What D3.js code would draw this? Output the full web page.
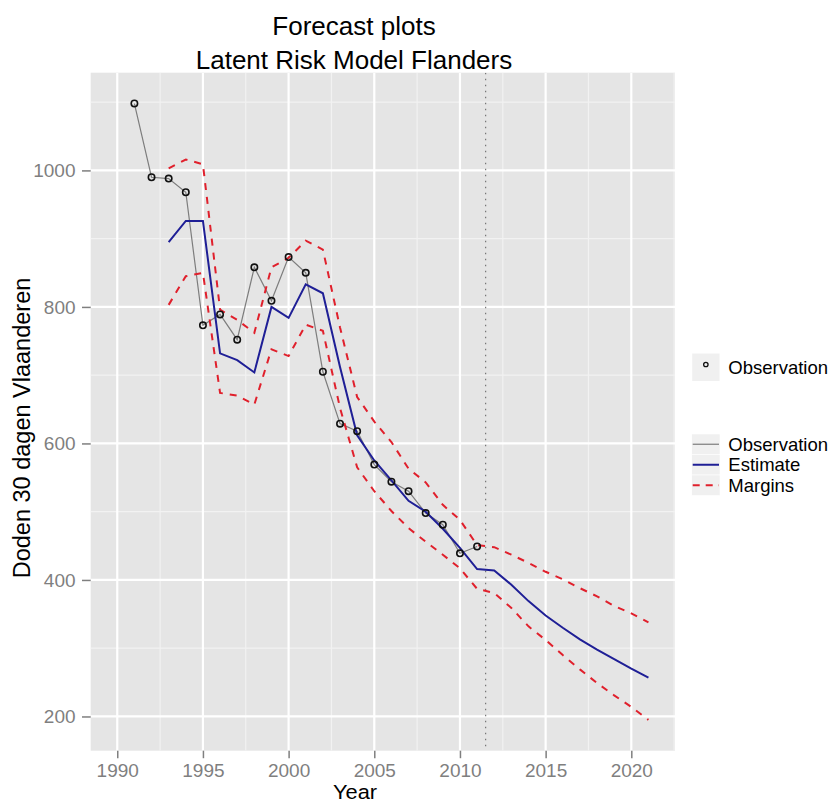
<!DOCTYPE html>
<html>
<head>
<meta charset="utf-8">
<script src="https://cdn.jsdelivr.net/npm/d3@7"></script>
<style>
  body { margin: 0; background: #ffffff; }
  text { font-family: "Liberation Sans", Arial, sans-serif; }
</style>
</head>
<body>
<svg id="chart" width="832" height="803"></svg>
<script>
// ---- data ---------------------------------------------------------------
const obsYears = [1991, 1992, 1993, 1994, 1995, 1996, 1997, 1998, 1999, 2000, 2001,
                  2002, 2003, 2004, 2005, 2006, 2007, 2008, 2009, 2010, 2011];
const observed = [1098, 990, 988, 968, 773, 789, 752, 858, 809, 873, 850,
                  705, 629, 618, 569, 544, 530, 498, 481, 439, 449];

const fitYears = [1993, 1994, 1995, 1996, 1997, 1998, 1999, 2000, 2001, 2002,
                  2003, 2004, 2005, 2006, 2007, 2008, 2009, 2010, 2011, 2012,
                  2013, 2014, 2015, 2016, 2017, 2018, 2019, 2020, 2021];
const estimate = [895, 926, 926, 732, 722, 704, 800, 784, 833, 820,
                  712, 612, 575, 546, 516, 500, 475, 447, 416, 414,
                  393, 369, 348, 330, 313, 298, 284, 270, 257];
const upperMargin = [1003, 1016, 1009, 796, 781, 762, 858, 872, 897, 884,
                     770, 668, 632, 602, 563, 543, 510, 488, 451, 448,
                     437, 425, 412, 401, 388, 376, 362, 351, 338];
const lowerMargin = [803, 845, 850, 674, 670, 657, 738, 728, 774, 765,
                     652, 565, 530, 501, 476, 456, 437, 417, 387, 381,
                     359, 332, 312, 290, 269, 249, 231, 214, 195];

const yearLimits = [1990, 2021];          // range of the year scale before padding
const forecastStart = 2011.5;             // dotted separator between data and forecast
const xTicks = [1990, 1995, 2000, 2005, 2010, 2015, 2020];
const yTicks = [200, 400, 600, 800, 1000];

const titleLines = ["Forecast plots", "Latent Risk Model Flanders"];
const xTitle = "Year";
const yTitle = "Doden 30 dagen Vlaanderen";
const pointLegend = ["Observation"];
const lineLegend = ["Observation", "Estimate", "Margins"];

// ---- layout -------------------------------------------------------------
const panel = { left: 90.7, right: 675, top: 72.7, bottom: 750.7 };
const colors = { panel: "#e5e5e5", obsLine: "#7d7d7d", estimate: "#1f1f96",
                 margin: "#e0202c", axisText: "#7f7f7f", key: "#f0f0f0" };

const svg = d3.select("#chart");
svg.append("rect").attr("width", 832).attr("height", 803).attr("fill", "#ffffff");

// scales padded by 5% on each side of the data range
const xPad = (yearLimits[1] - yearLimits[0]) * 0.05;
const x = d3.scaleLinear()
  .domain([yearLimits[0] - xPad, yearLimits[1] + xPad])
  .range([panel.left, panel.right]);

const yMin = d3.min(lowerMargin), yMax = d3.max(observed);
const yPad = (yMax - yMin) * 0.05;
const y = d3.scaleLinear()
  .domain([yMin - yPad, yMax + yPad])
  .range([panel.bottom, panel.top]);

// ---- panel background and grid ------------------------------------------
svg.append("rect")
  .attr("x", panel.left).attr("y", panel.top)
  .attr("width", panel.right - panel.left).attr("height", panel.bottom - panel.top)
  .attr("fill", colors.panel);

svg.append("clipPath").attr("id", "panelClip")
  .append("rect")
  .attr("x", panel.left).attr("y", panel.top)
  .attr("width", panel.right - panel.left).attr("height", panel.bottom - panel.top);

const grid = svg.append("g").attr("clip-path", "url(#panelClip)");

const xMinor = xTicks.map(t => t + 2.5);
const yMinor = yTicks.map(t => t + 100);

grid.selectAll(".xminor").data(xMinor).join("line")
  .attr("x1", d => x(d)).attr("x2", d => x(d))
  .attr("y1", panel.top).attr("y2", panel.bottom)
  .attr("stroke", "#f2f2f2").attr("stroke-width", 1.2);
grid.selectAll(".yminor").data(yMinor).join("line")
  .attr("y1", d => y(d)).attr("y2", d => y(d))
  .attr("x1", panel.left).attr("x2", panel.right)
  .attr("stroke", "#f2f2f2").attr("stroke-width", 1.2);
grid.selectAll(".xmajor").data(xTicks).join("line")
  .attr("x1", d => x(d)).attr("x2", d => x(d))
  .attr("y1", panel.top).attr("y2", panel.bottom)
  .attr("stroke", "#ffffff").attr("stroke-width", 2.2);
grid.selectAll(".ymajor").data(yTicks).join("line")
  .attr("y1", d => y(d)).attr("y2", d => y(d))
  .attr("x1", panel.left).attr("x2", panel.right)
  .attr("stroke", "#ffffff").attr("stroke-width", 2.2);

// ---- series -------------------------------------------------------------
const plot = svg.append("g").attr("clip-path", "url(#panelClip)");

plot.append("line")
  .attr("x1", x(forecastStart)).attr("x2", x(forecastStart))
  .attr("y1", panel.top).attr("y2", panel.bottom)
  .attr("stroke", "#6a6a6a").attr("stroke-width", 1.1)
  .attr("stroke-dasharray", "1.5,4.5");

const obsData = obsYears.map((yr, i) => ({ yr, v: observed[i] }));
const fitData = fitYears.map((yr, i) => ({ yr, est: estimate[i], hi: upperMargin[i], lo: lowerMargin[i] }));

const line = d3.line().x(d => x(d[0])).y(d => y(d[1]));

plot.append("path")
  .attr("d", line(obsData.map(d => [d.yr, d.v])))
  .attr("fill", "none").attr("stroke", colors.obsLine).attr("stroke-width", 1.2);

plot.append("path")
  .attr("d", line(fitData.map(d => [d.yr, d.est])))
  .attr("fill", "none").attr("stroke", colors.estimate).attr("stroke-width", 2);

["hi", "lo"].forEach(k => {
  plot.append("path")
    .attr("d", line(fitData.map(d => [d.yr, d[k]])))
    .attr("fill", "none").attr("stroke", colors.margin).attr("stroke-width", 2)
    .attr("stroke-dasharray", "7,7");
});

plot.selectAll(".obs").data(obsData).join("circle")
  .attr("cx", d => x(d.yr)).attr("cy", d => y(d.v)).attr("r", 3.2)
  .attr("fill", "none").attr("stroke", "#111111").attr("stroke-width", 1.6);

// ---- axes ---------------------------------------------------------------
const xAxis = svg.append("g")
  .attr("transform", `translate(0,${panel.bottom})`)
  .call(d3.axisBottom(x).tickValues(xTicks).tickFormat(d3.format("d"))
        .tickSizeInner(7.5).tickSizeOuter(0).tickPadding(5.3));
const yAxis = svg.append("g")
  .attr("transform", `translate(${panel.left},0)`)
  .call(d3.axisLeft(y).tickValues(yTicks).tickFormat(d3.format("d"))
        .tickSizeInner(8.7).tickSizeOuter(0).tickPadding(6.5));

[xAxis, yAxis].forEach(a => {
  a.select(".domain").remove();
  a.selectAll(".tick line").attr("stroke", colors.axisText).attr("stroke-width", 1.5);
  a.selectAll(".tick text")
    .attr("fill", colors.axisText)
    .style("font-size", "19px")
    .style("font-family", "'Liberation Sans', Arial, sans-serif");
});

// ---- titles -------------------------------------------------------------
svg.selectAll(".title").data(titleLines).join("text")
  .attr("x", 354).attr("y", (d, i) => 34.5 + i * 34.5)
  .attr("text-anchor", "middle")
  .style("font-size", "26px").attr("fill", "#000000")
  .text(d => d);

// x title sits tight against the bottom edge, so it is widened slightly instead of enlarged
svg.append("text")
  .attr("transform", "translate(355,798.8) scale(1.12,1)")
  .attr("text-anchor", "middle")
  .style("font-size", "19.5px").attr("fill", "#000000")
  .text(xTitle);

svg.append("text")
  .attr("transform", "translate(30,428) rotate(-90)")
  .attr("text-anchor", "middle")
  .style("font-size", "23.5px").attr("fill", "#000000")
  .text(yTitle);

// ---- legends ------------------------------------------------------------
const keyX = 691.7, keyW = 28.3, labelX = 728.3;

const leg1 = svg.append("g");
leg1.append("rect")
  .attr("x", keyX).attr("y", 353).attr("width", keyW).attr("height", 28.5)
  .attr("fill", colors.key).attr("stroke", "#ffffff").attr("stroke-width", 1);
leg1.append("circle")
  .attr("cx", keyX + keyW / 2).attr("cy", 364.5).attr("r", 2.2)
  .attr("fill", "none").attr("stroke", "#111111").attr("stroke-width", 1.3);
leg1.selectAll("text").data(pointLegend).join("text")
  .attr("x", labelX).attr("y", 374)
  .style("font-size", "18.5px").attr("fill", "#000000")
  .text(d => d);

const rowH = 20.5, rowTop = 434;
const keyStyles = [
  { stroke: colors.obsLine, width: 1.2, dash: null },
  { stroke: colors.estimate, width: 2, dash: null },
  { stroke: colors.margin, width: 2, dash: "7,6" }
];
const leg2 = svg.append("g");
leg2.selectAll("rect").data(lineLegend).join("rect")
  .attr("x", keyX).attr("y", (d, i) => rowTop + i * rowH)
  .attr("width", keyW).attr("height", rowH)
  .attr("fill", colors.key).attr("stroke", "#ffffff").attr("stroke-width", 0.6);
leg2.selectAll("line").data(lineLegend).join("line")
  .attr("x1", keyX + 1).attr("x2", keyX + keyW - 1)
  .attr("y1", (d, i) => rowTop + i * rowH + rowH / 2)
  .attr("y2", (d, i) => rowTop + i * rowH + rowH / 2)
  .attr("stroke", (d, i) => keyStyles[i].stroke)
  .attr("stroke-width", (d, i) => keyStyles[i].width)
  .attr("stroke-dasharray", (d, i) => keyStyles[i].dash);
leg2.selectAll("text").data(lineLegend).join("text")
  .attr("x", labelX).attr("y", (d, i) => rowTop + i * rowH + rowH / 2 + 6.3)
  .style("font-size", "18.5px").attr("fill", "#000000")
  .text(d => d);
</script>
</body>
</html>
